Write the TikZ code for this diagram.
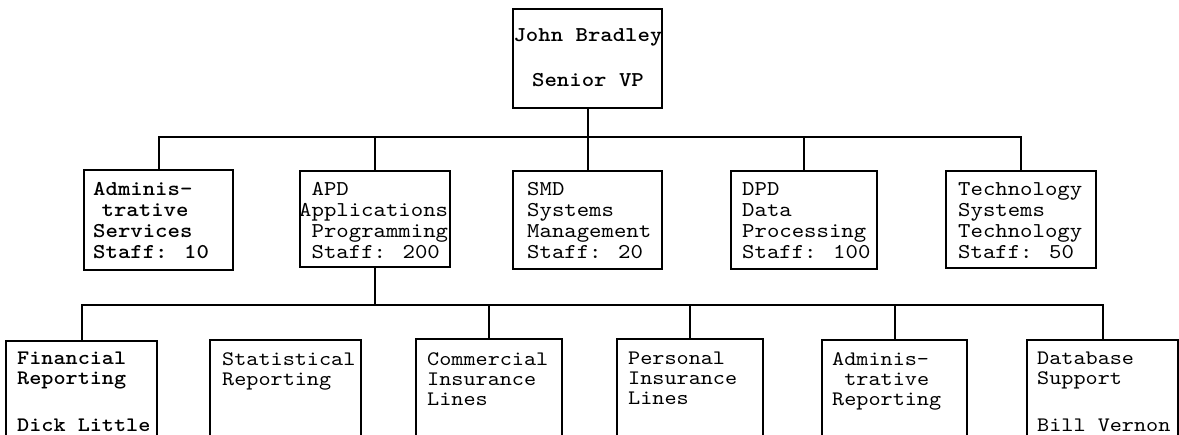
\documentclass[tikz,border=0pt]{standalone}
\usepackage{fontspec}
\newfontfamily\typew{lmmono10-regular.otf}[BoldFont=lmmonolt10-bold.otf, FakeStretch=1.12]
\begin{document}
\begin{tikzpicture}[x=1pt,y=-1pt,
  box/.style={draw, line width=2pt, rectangle, inner sep=0pt, outer sep=0pt, anchor=north west},
  lbl/.style={anchor=north west, inner sep=0pt, align=left, font=\typew\fontsize{21.1}{21}\selectfont},
  lblb/.style={lbl, font=\typew\bfseries\fontsize{21.1}{21}\selectfont},
  lbls/.style={lbl, font=\typew\fontsize{20.6}{20}\selectfont},
  lblsb/.style={lbl, font=\typew\bfseries\fontsize{20.6}{20}\selectfont},
  conn/.style={line width=2pt}]
\fill[white] (0,0) rectangle (1179,435);
\clip (0,0) rectangle (1179,435);
% top
\node[box, minimum width=149pt, minimum height=99pt] (top) at (513,9) {};
\node[lblb, anchor=north, align=center] (topt) at (588,28) {John Bradley\\[24pt]Senior VP};
% level 2
\node[box, minimum width=149pt, minimum height=100pt] (adm) at (84,170) {};
\node[box, minimum width=150pt, minimum height=96pt] (apd) at (300,171) {};
\node[box, minimum width=149pt, minimum height=98pt] (smd) at (513,171) {};
\node[box, minimum width=146pt, minimum height=98pt] (dpd) at (731,171) {};
\node[box, minimum width=150pt, minimum height=97pt] (tech) at (946,171) {};
\node[lblb] (admt) at (93,182) {Adminis-\\\hspace{.4em}trative\\Services\\Staff: 10};
\node[lbl] (apdt) at (299,182) {\hspace{.59em}APD\\Applications\\\hspace{.59em}Programming\\\hspace{.59em}Staff: 200};
\node[lbl] (smdt) at (527,182) {SMD\\Systems\\Management\\Staff: 20};
\node[lbl] (dpdt) at (742,182) {DPD\\Data\\Processing\\Staff: 100};
\node[lbl] (techt) at (958,182) {Technology\\Systems\\Technology\\Staff: 50};
% level 3
\node[box, minimum width=151pt, minimum height=130pt] (fin) at (6,341) {};
\node[box, minimum width=151pt, minimum height=130pt] (stat) at (210,340) {};
\node[box, minimum width=146pt, minimum height=130pt] (com) at (416,339) {};
\node[box, minimum width=146pt, minimum height=130pt] (per) at (617,339) {};
\node[box, minimum width=145pt, minimum height=130pt] (adr) at (822,340) {};
\node[box, minimum width=151pt, minimum height=130pt] (db) at (1027,340) {};
\node[lblsb] (fint) at (17,352) {Financial\\Reporting\\[27pt]Dick Little};
\node[lbls] (statt) at (222,352) {Statistical\\Reporting};
\node[lbls] (comt) at (427,352) {Commercial\\Insurance\\Lines};
\node[lbls] (pert) at (628,352) {Personal\\Insurance\\Lines};
\node[lbls] (adrt) at (832,352) {Adminis-\\\hspace{.59em}trative\\Reporting};
\node[lbls] (dbt) at (1037,352) {Database\\Support\\[27pt]Bill Vernon};
% connectors
\coordinate (bus1) at (top.south |- 0,137);
\coordinate (bus2) at (apd.south |- 0,305);
\draw[conn] (top.south) -- (bus1);
\draw[conn] (adm.north) |- (bus1) -| (tech.north);
\draw[conn] (apd.north) -- (apd.north |- bus1);
\draw[conn] (smd.north) -- (smd.north |- bus1);
\draw[conn] (dpd.north) -- (dpd.north |- bus1);
\draw[conn] (apd.south) -- (bus2);
\draw[conn] (fin.north) |- (bus2) -| (db.north);
\draw[conn] (com.north) -- (com.north |- bus2);
\draw[conn] (per.north) -- (per.north |- bus2);
\draw[conn] (adr.north) -- (adr.north |- bus2);
\end{tikzpicture}
\end{document}
